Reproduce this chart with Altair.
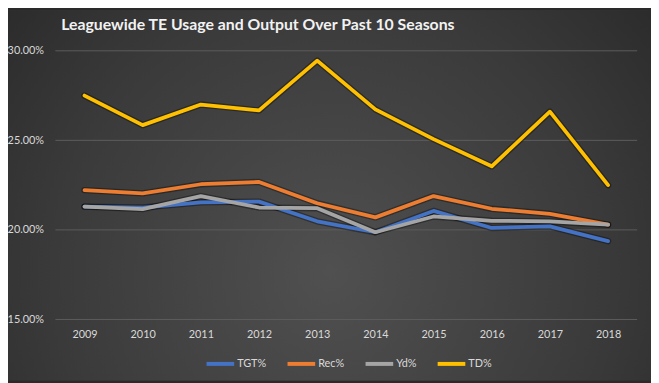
import altair as alt
import pandas as pd

title_text = "Leaguewide TE Usage and Output Over Past 10 Seasons"
years = ["2009", "2010", "2011", "2012", "2013", "2014", "2015", "2016", "2017", "2018"]
series_names = ["TGT%", "Rec%", "Yd%", "TD%"]
tgt = [21.30, 21.25, 21.54, 21.58, 20.48, 19.87, 21.06, 20.11, 20.20, 19.37]
rec = [22.22, 22.04, 22.55, 22.68, 21.49, 20.70, 21.89, 21.18, 20.90, 20.29]
yd = [21.30, 21.16, 21.89, 21.25, 21.21, 19.87, 20.75, 20.51, 20.47, 20.29]
td = [27.50, 25.85, 27.00, 26.67, 29.45, 26.73, 25.07, 23.55, 26.60, 22.50]
y_ticks = [0.15, 0.20, 0.25, 0.30]
colors = ["#4472C4", "#ED7D31", "#A5A5A5", "#FFC000"]

rows = []
for name, vals in zip(series_names, [tgt, rec, yd, td]):
    for yr, v in zip(years, vals):
        rows.append({"Year": yr, "Series": name, "Value": v / 100.0})
df = pd.DataFrame(rows)

W, H = 589, 272
PL, PT, PR, PB = 48, 41, 14, 62

x_enc = alt.X("Year:O", sort=years, scale=alt.Scale(type="point", padding=0.5),
              axis=alt.Axis(title=None, labelAngle=0, domain=False, ticks=False, labelPadding=9,
                            labelColor="#d9d9d9", labelFont="Lato", labelFontSize=11, zindex=1))
y_scale = alt.Scale(domain=[0.15, 0.30], nice=False)
y_enc = alt.Y("Value:Q", scale=y_scale,
              axis=alt.Axis(title=None, format=".2%", values=y_ticks, domain=False, ticks=False,
                            grid=False, labelPadding=12, labelColor="#d9d9d9", labelFont="Lato",
                            labelFontSize=11, zindex=1))

bg = alt.Chart(pd.DataFrame({"a": [0]})).mark_rect(
    clip=False,
    fill=alt.RadialGradient(
        gradient="radial",
        stops=[alt.GradientStop(color="#505050", offset=0),
               alt.GradientStop(color="#3a3a3a", offset=0.55),
               alt.GradientStop(color="#232323", offset=1)],
        x1=0.5, y1=0.62, r1=0, x2=0.5, y2=0.62, r2=0.78,
    ),
).encode(x=alt.value(-PL), x2=alt.value(W + PR), y=alt.value(-PT), y2=alt.value(H + PB))

grid = alt.Chart(pd.DataFrame({"Value": y_ticks})).mark_rule(color="#5c5c5c", strokeWidth=1).encode(
    y=y_enc
)

shadow = alt.Chart(df).mark_line(strokeWidth=6.5, color="#000000", opacity=0.35,
                                 strokeCap="round", strokeJoin="round").encode(
    x=x_enc, y=y_enc, detail="Series:N"
)

lines = alt.Chart(df).mark_line(strokeWidth=3.8, strokeCap="round", strokeJoin="round").encode(
    x=x_enc, y=y_enc,
    color=alt.Color("Series:N", sort=series_names,
                    scale=alt.Scale(domain=series_names, range=colors),
                    legend=alt.Legend(title=None, orient="none", direction="horizontal",
                                      legendX=151, legendY=301, symbolType="stroke",
                                      symbolSize=784, symbolStrokeWidth=4, labelOffset=1,
                                      columnPadding=13, labelColor="#d9d9d9", labelFont="Lato",
                                      labelFontSize=11, zindex=1)),
    detail="Series:N",
)

title = alt.Chart(pd.DataFrame({"a": [0]})).mark_text(
    text=title_text, font="Lato", fontSize=16, fontWeight="bold", color="#f2f2f2",
    align="center", baseline="alphabetic", clip=False,
).encode(x=alt.value(205), y=alt.value(-21))

chart = alt.layer(bg, grid, shadow, lines, title).properties(
    width=W, height=H,
    autosize=alt.AutoSizeParams(type="none"),
    padding={"left": PL, "top": PT, "right": PR, "bottom": PB},
    background="#2a2a2a",
).configure_view(stroke=None)

chart.save("out.html", embed_options={"renderer": "svg", "actions": False})
